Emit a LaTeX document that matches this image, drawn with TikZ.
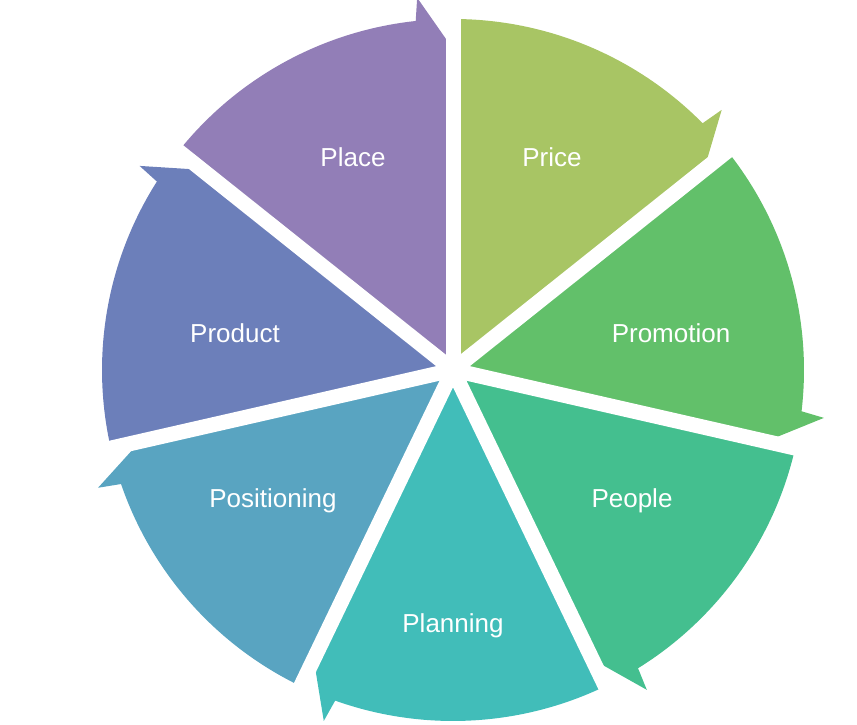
\documentclass[tikz,border=0pt]{standalone}
\usepackage{fontspec}
\setmainfont{Liberation Sans}
\usetikzlibrary{calc}
\definecolor{cPrice}{RGB}{168,197,100}
\definecolor{cPromotion}{RGB}{98,192,106}
\definecolor{cPeople}{RGB}{68,191,143}
\definecolor{cPlanning}{RGB}{65,189,185}
\definecolor{cPositioning}{RGB}{89,164,193}
\definecolor{cProduct}{RGB}{108,127,186}
\definecolor{cPlace}{RGB}{146,126,183}
\begin{document}
\begin{tikzpicture}[x=1pt,y=1pt,
  slice/.style={fill=#1, draw=none},
  gapline/.style={draw=white, line width=15pt},
  lbl/.style={text=white, font=\fontsize{26}{30}\selectfont, anchor=base, inner sep=0pt}]
\useasboundingbox (0,0) rectangle (857,725);
\clip (0,0) rectangle (857,725);
\coordinate (C) at (453,355);
\foreach \i/\col in {0/cPrice,1/cPromotion,2/cPeople,3/cPlanning,4/cPositioning,5/cProduct,6/cPlace}{
  \pgfmathsetmacro{\s}{90-\i*360/7}
  \pgfmathsetmacro{\g}{\s-360/7}
  \pgfmathsetmacro{\e}{\g+6.1}
  \pgfmathsetmacro{\t}{\g+5.5}
  \path[slice=\col] (C) -- ($(C)+(\s:351pt)$) arc[start angle=\s, end angle=\e, radius=351pt]
    -- ($(C)+(\t:374pt)$) -- ($(C)+(\g:321pt)$) -- cycle;
}
\foreach \i in {0,...,6}{
  \pgfmathsetmacro{\a}{90-\i*360/7}
  \coordinate (G\i) at ($(C)+(\a:420pt)$);
  \path[gapline] (C) -- (G\i);
}
\node[lbl] (place) at (353,558) {Place};
\node[lbl] (price) at (552,558) {Price};
\node[lbl] (promotion) at (671,382) {Promotion};
\node[lbl] (product) at (235,382) {Product};
\node[lbl] (people) at (632,217) {People};
\node[lbl] (positioning) at (273,217) {Positioning};
\node[lbl] (planning) at (453,92) {Planning};
\end{tikzpicture}
\end{document}
